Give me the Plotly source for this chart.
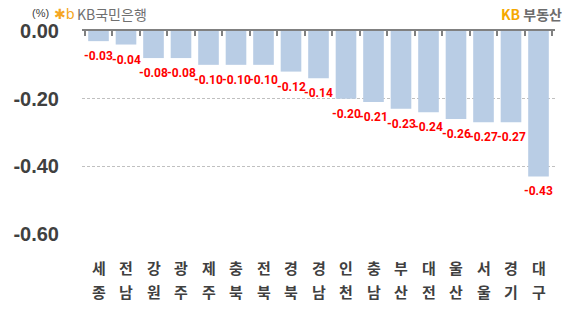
import plotly.graph_objects as go

regions = ["세종", "전남", "강원", "광주", "제주", "충북", "전북", "경북", "경남",
           "인천", "충남", "부산", "대전", "울산", "서울", "경기", "대구"]
values = [-0.03, -0.04, -0.08, -0.08, -0.10, -0.10, -0.10, -0.12, -0.14,
          -0.20, -0.21, -0.23, -0.24, -0.26, -0.27, -0.27, -0.43]
ytick_vals = [0, -0.2, -0.4, -0.6]
ytick_text = ["0.00", "-0.20", "-0.40", "-0.60"]

FONT = "Liberation Sans, Noto Sans CJK KR, sans-serif"
KFONT = "Noto Sans CJK KR, Liberation Sans, sans-serif"

L, R, T, B = 82, 29, 31, 86
W, H = 584, 320
pw, ph = W - L - R, H - T - B

fig = go.Figure()
fig.add_trace(go.Bar(
    x=regions, y=values,
    marker=dict(color="#b9cde5", line=dict(width=0)),
    hoverinfo="skip",
))

annotations = []
for r, v in zip(regions, values):
    annotations.append(dict(x=r, y=v, xref="x", yref="y", text=f"{v:.2f}",
                            showarrow=False, yanchor="middle", yshift=-15,
                            font=dict(family="Roboto, Liberation Sans, sans-serif", size=12,
                                      color="#ff0000", weight="bold")))
    annotations.append(dict(x=r, y=-0.167, xref="x", yref="paper", text=r[0],
                            showarrow=False, yanchor="middle",
                            font=dict(family=KFONT, size=15, color="#404040", weight="bold")))
    annotations.append(dict(x=r, y=-0.281, xref="x", yref="paper", text=r[1],
                            showarrow=False, yanchor="middle",
                            font=dict(family=KFONT, size=15, color="#404040", weight="bold")))


def px2paper(px, py):
    return (px - L) / pw, (H - B - py) / ph


header = [
    (30, 13, "(%)", dict(family=FONT, size=11, color="#404040")),
    (52, 14, "✱b", dict(family="DejaVu Sans", size=14, color="#f5a623")),
    (75, 14, "KB국민은행", dict(family=KFONT, size=14, color="#707070")),
    (499, 14, "<b><span style='color:#f5a800'>KB</span> <span style='color:#6d6d6d'>부동산</span></b>",
     dict(family=KFONT, size=14, color="#6d6d6d")),
]
for px, py, txt, f in header:
    xp, yp = px2paper(px, py)
    annotations.append(dict(x=xp, y=yp, xref="paper", yref="paper", text=txt, showarrow=False,
                            xanchor="left", yanchor="middle", font=f))

fig.update_layout(
    width=W, height=H,
    margin=dict(l=L, r=R, t=T, b=B),
    paper_bgcolor="white", plot_bgcolor="white",
    bargap=0.25,
    showlegend=False,
    annotations=annotations,
    xaxis=dict(
        side="top", showticklabels=False, showline=True, linecolor="#808080", linewidth=1.5,
        ticks="inside", tickson="boundaries", ticklen=5, tickcolor="#808080", tickwidth=1.5,
        showgrid=False, fixedrange=True,
    ),
    yaxis=dict(
        range=[-0.6, 0], tickvals=ytick_vals, ticktext=ytick_text,
        tickfont=dict(family=FONT, size=20, color="#404040", weight="bold"),
        showgrid=True, gridcolor="#c0c0c0", griddash="3px,2px", gridwidth=1,
        zeroline=False, showline=False, ticks="", ticklabelstandoff=22,
        fixedrange=True,
    ),
)

fig.write_html("out.html")
